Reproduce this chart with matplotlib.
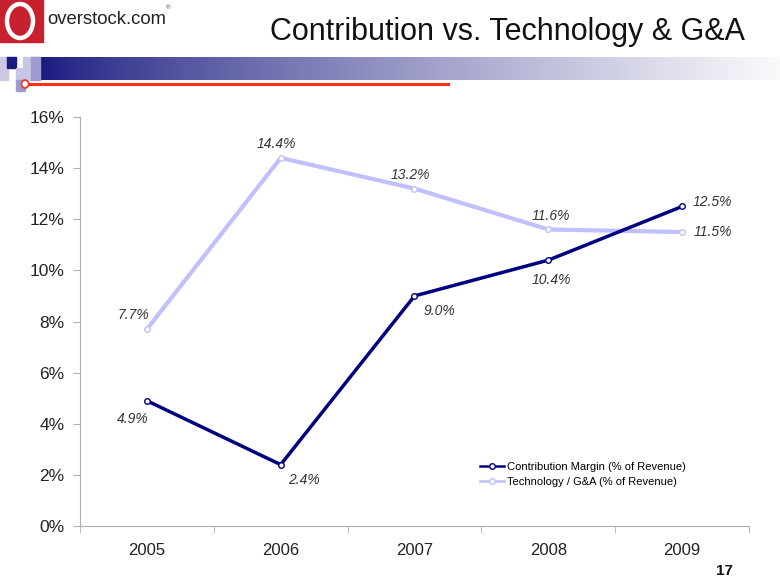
import matplotlib.pyplot as plt
import matplotlib.patches as mpatches
import numpy as np

plt.rcParams['font.family'] = ['Liberation Sans', 'DejaVu Sans']

# data
years = ['2005', '2006', '2007', '2008', '2009']
contribution = [4.9, 2.4, 9.0, 10.4, 12.5]
tech_ga = [7.7, 14.4, 13.2, 11.6, 11.5]
yticks = [0, 2, 4, 6, 8, 10, 12, 14, 16]

fig = plt.figure(figsize=(7.8, 5.85), dpi=100)

# slide decorations drawn in pixel coordinates
bg = fig.add_axes([0, 0, 1, 1])
bg.set_xlim(0, 780)
bg.set_ylim(585, 0)
bg.axis('off')

# logo
bg.add_patch(mpatches.Rectangle((0, 0), 43, 42, color='#c8202f'))
bg.add_patch(mpatches.Ellipse((20, 21), 26, 34, fill=False, ec='white', lw=3.2))
bg.text(47, 19, 'overstock.com', fontsize=13.3, va='center', ha='left', color='#222222')
bg.text(166, 8, '®', fontsize=4.5, va='center', ha='left', color='#333333')

# title
bg.text(745, 32, 'Contribution vs. Technology & G&A', fontsize=22, ha='right', va='center', color='#111111')

# gradient bar
grad = np.linspace(0, 1, 300)
navy = np.array([0.10, 0.10, 0.50])
white = np.array([0.98, 0.98, 0.99])
cols = navy[None, :] * (1 - grad[:, None] ** 0.8) + white[None, :] * grad[:, None] ** 0.8
bg.imshow(cols[None, :, :], extent=(40, 780, 80, 57), aspect='auto', zorder=1)

# small squares
sq = [(0, 57, 8, 23, '#c9c9e6'), (7, 57, 9, 11, '#1a1a80'), (23, 57, 16, 11, '#c6c6e6'),
      (31, 57, 9, 11, '#9c9cd0'), (16, 68, 15, 12, '#c6c6e6'), (31, 68, 9, 12, '#9c9cd0'),
      (16, 80, 9, 11, '#9c9cd0')]
for x, y, w, h, c in sq:
    bg.add_patch(mpatches.Rectangle((x, y), w, h, color=c, zorder=2))

# red rule with ring
bg.plot([28, 448], [84, 84], color='#ff3010', lw=2.2, zorder=3)
bg.add_patch(mpatches.Ellipse((25, 84), 7, 8, fc='white', ec='#ff3010', lw=1.2, zorder=4))

# page number
bg.text(733, 571, '17', fontsize=11, fontweight='bold', ha='right', va='center', color='#111111')

# chart
ax = fig.add_axes([80 / 780, 1 - 526 / 585, (749 - 80) / 780, (526 - 117) / 585])
x = np.arange(len(years))
ax.plot(x, contribution, color='#000080', lw=2.5, marker='o', ms=4,
        mfc='white', mec='#000080', mew=1, label='Contribution Margin (% of Revenue)', zorder=3)
ax.plot(x, tech_ga, color='#c0c0ff', lw=3, marker='o', ms=4,
        mfc='white', mec='#c0c0ff', mew=1, label='Technology / G&A (% of Revenue)', zorder=2)

# data labels (offsets in points)
tech_off = [(-10, 10), (-3, 10), (-3, 10), (2, 10), (22, 0)]
contrib_off = [(-10, -13), (17, -11), (18, -11), (2, -14), (22, 3)]
for i in range(len(years)):
    ax.annotate(f'{tech_ga[i]:.1f}%', (x[i], tech_ga[i]), xytext=tech_off[i],
                textcoords='offset points', ha='center', va='center',
                fontsize=10, style='italic', color='#333333')
    ax.annotate(f'{contribution[i]:.1f}%', (x[i], contribution[i]), xytext=contrib_off[i],
                textcoords='offset points', ha='center', va='center',
                fontsize=10, style='italic', color='#333333')

ax.set_xlim(-0.5, len(years) - 0.5)
ax.set_ylim(0, 16)
ax.set_yticks(yticks)
ax.set_yticklabels([f'{v}%' for v in yticks], fontsize=12.5, color='#222222')
ax.set_xticks(x)
ax.set_xticklabels(years, fontsize=12, color='#222222')
ax.set_xticks(np.arange(-0.5, len(years)), minor=True)
ax.tick_params(axis='x', which='major', length=0, pad=12)
ax.tick_params(axis='x', which='minor', length=5, color='#b0b0b0', direction='out')
ax.tick_params(axis='y', length=5, color='#b0b0b0', direction='out', pad=6)
for s in ['top', 'right']:
    ax.spines[s].set_visible(False)
for s in ['left', 'bottom']:
    ax.spines[s].set_color('#b0b0b0')

leg = ax.legend(loc='lower right', bbox_to_anchor=(0.92, 0.07), frameon=False, fontsize=8,
                handlelength=2.2, handletextpad=0.2, labelspacing=0.5)
for h in leg.get_lines():
    h.set_linewidth(1.8)

fig.savefig('out.png', dpi=100)
